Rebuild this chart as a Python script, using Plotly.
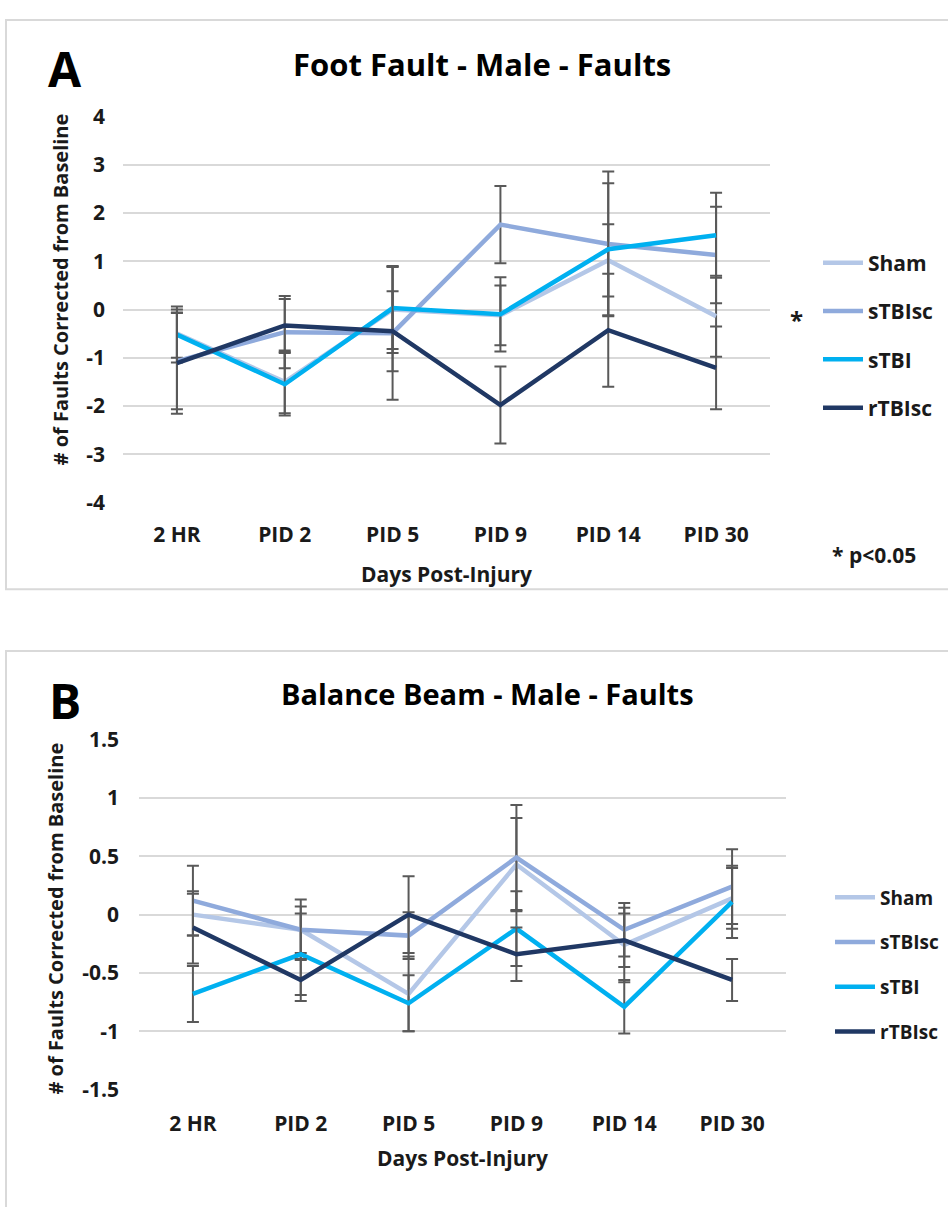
import plotly.graph_objects as go

W, H = 948, 1207

categories = ["2 HR", "PID 2", "PID 5", "PID 9", "PID 14", "PID 30"]
groups = ["Sham", "sTBIsc", "sTBI", "rTBIsc"]

# Panel A - Foot Fault
sham_a = [-0.50, -1.50, 0.00, -0.12, 1.02, -0.14]
stbisc_a = [-1.07, -0.47, -0.49, 1.76, 1.36, 1.13]
stbi_a = [-0.52, -1.55, 0.03, -0.10, 1.25, 1.54]
rtbisc_a = [-1.11, -0.33, -0.45, -1.98, -0.43, -1.21]
sham_a_err = [0.50, 0.65, 0.90, 0.62, 0.75, 0.84]
stbisc_a_err = [1.00, 0.75, 1.38, 0.80, 1.50, 1.00]
stbi_a_err = [0.58, 0.65, 0.85, 0.77, 1.37, 0.88]
rtbisc_a_err = [1.05, 0.55, 0.83, 0.80, 1.17, 0.86]

# Panel B - Balance Beam
sham_b = [0.00, -0.13, -0.68, 0.43, -0.26, 0.14]
stbisc_b = [0.12, -0.13, -0.18, 0.49, -0.13, 0.24]
stbi_b = [-0.68, -0.34, -0.76, -0.12, -0.79, 0.11]
rtbisc_b = [-0.11, -0.56, 0.00, -0.34, -0.22, -0.56]
sham_b_err = [0.18, 0.20, 0.32, 0.40, 0.32, 0.26]
stbisc_b_err = [0.30, 0.26, 0.20, 0.45, 0.23, 0.32]
stbi_b_err = [0.24, 0.35, 0.24, 0.32, 0.23, 0.31]
rtbisc_b_err = [0.31, 0.18, 0.33, 0.23, 0.23, 0.18]

yticks_a = [4, 3, 2, 1, 0, -1, -2, -3, -4]
yticks_b = [1.5, 1, 0.5, 0, -0.5, -1, -1.5]
ytick_text_b = ["1.5", "1", "0.5", "0", "-0.5", "-1", "-1.5"]

colors = ["#B4C7E7", "#8FAADC", "#00B0F0", "#203864"]
FONT = "Open Sans"
TXT = "#1a1a1a"
GRID = "#D9D9D9"
ERR = "#595959"

def px_x(p):
    return p / W

def px_y(p):
    return 1 - p / H

fig = go.Figure()

series_a = [(sham_a, sham_a_err), (stbisc_a, stbisc_a_err), (stbi_a, stbi_a_err), (rtbisc_a, rtbisc_a_err)]
series_b = [(sham_b, sham_b_err), (stbisc_b, stbisc_b_err), (stbi_b, stbi_b_err), (rtbisc_b, rtbisc_b_err)]

for i, (name, (vals, errs)) in enumerate(zip(groups, series_a)):
    fig.add_trace(go.Scatter(
        x=categories, y=vals, name=name, mode="lines",
        line=dict(color=colors[i], width=4.5),
        error_y=dict(type="data", array=errs, visible=True, color=ERR, thickness=2, width=6),
        xaxis="x", yaxis="y", legend="legend", legendgroup="a" + name,
    ))
for i, (name, (vals, errs)) in enumerate(zip(groups, series_b)):
    fig.add_trace(go.Scatter(
        x=categories, y=vals, name=name, mode="lines",
        line=dict(color=colors[i], width=4.5),
        error_y=dict(type="data", array=errs, visible=True, color=ERR, thickness=2, width=6),
        xaxis="x2", yaxis="y2", legend="legend2", legendgroup="b" + name,
    ))

axis_common = dict(showline=False, zeroline=False, ticks="", showgrid=False)
tickfont = dict(family=FONT, size=21, color=TXT, weight="bold")

fig.update_layout(
    width=W, height=H, margin=dict(l=0, r=0, t=0, b=0),
    paper_bgcolor="white", plot_bgcolor="white",
    xaxis=dict(domain=[px_x(123), px_x(770)], anchor="y", type="category",
               range=[-0.5, 5.5], tickfont=tickfont, ticklabelstandoff=18, **axis_common),
    yaxis=dict(domain=[px_y(499), px_y(104)], anchor="x", range=[-4, 4],
               tickvals=yticks_a, ticktext=[str(v) for v in yticks_a],
               tickfont=tickfont, ticklabelstandoff=17,
               showline=False, zeroline=False, ticks="", showgrid=True,
               gridcolor=GRID, gridwidth=2),
    xaxis2=dict(domain=[px_x(139), px_x(786)], anchor="y2", type="category",
                range=[-0.5, 5.5], tickfont=tickfont, ticklabelstandoff=20, **axis_common),
    yaxis2=dict(domain=[px_y(1100), px_y(742)], anchor="x2", range=[-1.5, 1.5],
                tickvals=yticks_b, ticktext=ytick_text_b,
                tickfont=tickfont, ticklabelstandoff=19,
                showline=False, zeroline=False, ticks="", showgrid=True,
                gridcolor=GRID, gridwidth=2),
    legend=dict(x=px_x(818), y=px_y(233), xanchor="left", yanchor="top",
                font=dict(family=FONT, size=21, color=TXT, weight="bold"),
                bgcolor="rgba(0,0,0,0)", traceorder="grouped", tracegroupgap=18,
                itemwidth=40),
    legend2=dict(x=px_x(830), y=px_y(884), xanchor="left", yanchor="top",
                 font=dict(family=FONT, size=19, color=TXT, weight="bold"),
                 bgcolor="rgba(0,0,0,0)", traceorder="grouped", tracegroupgap=17,
                 itemwidth=40),
    showlegend=True,
)

shapes = [
    dict(type="rect", xref="paper", yref="paper", x0=px_x(6), x1=px_x(960),
         y0=px_y(588), y1=px_y(5), line=dict(color=GRID, width=2), fillcolor="rgba(0,0,0,0)", layer="below"),
    dict(type="rect", xref="paper", yref="paper", x0=px_x(6), x1=px_x(960),
         y0=px_y(1230), y1=px_y(651), line=dict(color=GRID, width=2), fillcolor="rgba(0,0,0,0)", layer="below"),
]
fig.update_layout(shapes=shapes)

def ann(text, x, y, size, bold=True, angle=0):
    return dict(text=text, x=px_x(x), y=px_y(y), xref="paper", yref="paper",
                showarrow=False, xanchor="center", yanchor="middle", textangle=angle,
                font=dict(family=FONT, size=size, color="black" if size > 24 else TXT,
                          weight="bold" if bold else "normal"))

annotations = [
    ann("A", 65, 55, 48),
    ann("Foot Fault - Male - Faults", 482, 50, 31),
    ann("# of Faults Corrected from Baseline", 60, 281, 20, angle=-90),
    ann("Days Post-Injury", 446, 572, 21),
    ann("* p<0.05", 874, 553, 21),
    ann("*", 796, 312, 24),
    ann("B", 65, 702, 48),
    ann("Balance Beam - Male - Faults", 487, 695, 29),
    ann("# of Faults Corrected from Baseline", 56, 925, 20, angle=-90),
    ann("Days Post-Injury", 462, 1170, 21),
]
fig.update_layout(annotations=annotations)

fig.write_html("out.html")
